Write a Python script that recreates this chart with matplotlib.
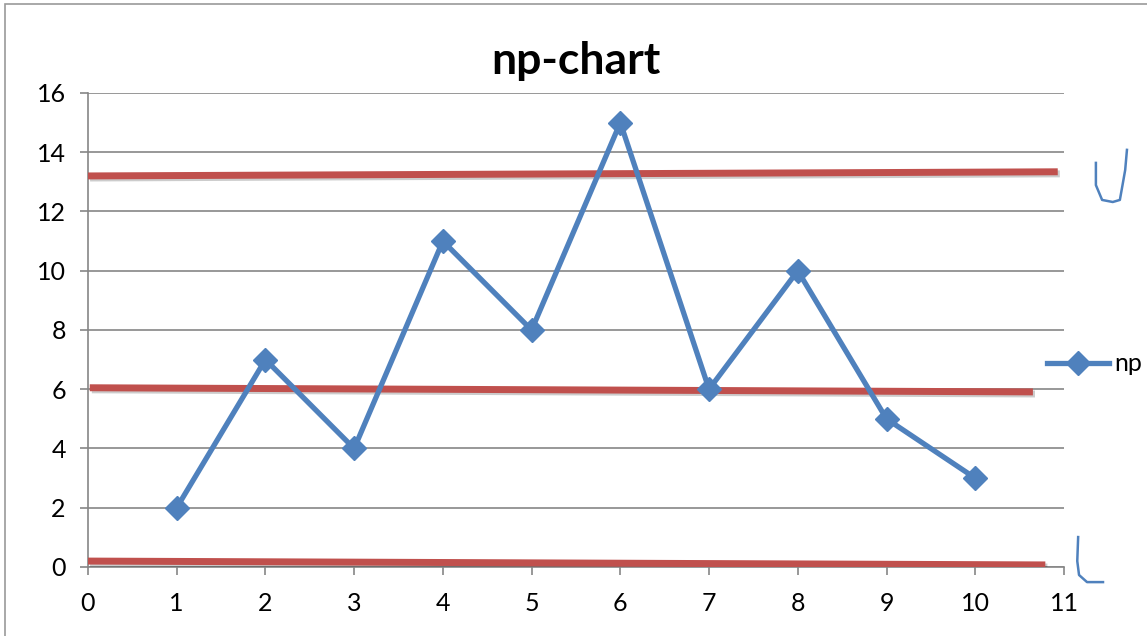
import matplotlib.pyplot as plt
import matplotlib.patheffects as pe
from matplotlib.patches import Rectangle

# sample number and np values
samples = [1, 2, 3, 4, 5, 6, 7, 8, 9, 10]
np_values = [2, 7, 4, 11, 8, 15, 6, 10, 5, 3]

# hand drawn control limits (start/end points)
ucl_x = [0, 10.93]
ucl_y = [13.2, 13.34]
cl_x = [0.02, 10.65]
cl_y = [6.05, 5.91]
lcl_x = [0, 10.79]
lcl_y = [0.2, 0.07]

# hand drawn pen marks on the right
mark_top_x = [11.36, 11.36, 11.43, 11.55, 11.63, 11.66, 11.69, 11.71]
mark_top_y = [13.64, 12.89, 12.39, 12.32, 12.39, 12.89, 13.40, 14.08]
mark_bot_x = [11.16, 11.15, 11.17, 11.26, 11.44]
mark_bot_y = [1.01, 0.2, -0.27, -0.51, -0.51]

plt.rcParams['font.family'] = ['Lato', 'DejaVu Sans']

fig = plt.figure(figsize=(11.47, 6.36), dpi=100)
ax = fig.add_axes([0.0767, 0.1085, 0.8509, 0.7453])

blue = '#4F81BD'
red = '#C0504D'
grey = '#868686'

shadow = [pe.SimpleLineShadow(offset=(1.5, -1.5), alpha=0.2), pe.Normal()]
for xs, ys in [(ucl_x, ucl_y), (cl_x, cl_y), (lcl_x, lcl_y)]:
    ax.plot(xs, ys, color=red, linewidth=5, solid_capstyle='butt',
            path_effects=shadow, zorder=3)

ax.plot(samples, np_values, color=blue, linewidth=3.8, marker='D',
        markersize=12, label='np', zorder=4, clip_on=False)

ax.plot(mark_top_x, mark_top_y, color=blue, linewidth=1.8, clip_on=False)
ax.plot(mark_bot_x, mark_bot_y, color=blue, linewidth=1.8, clip_on=False)

ax.set_xlim(0, 11)
ax.set_ylim(0, 16)
ax.set_xticks(range(0, 12))
ax.set_yticks(range(0, 17, 2))
ax.yaxis.grid(True, color=grey, linewidth=1.2)
ax.set_axisbelow(True)
for s in ['top', 'right']:
    ax.spines[s].set_visible(False)
for s in ['left', 'bottom']:
    ax.spines[s].set_color(grey)
    ax.spines[s].set_linewidth(1.2)
ax.tick_params(axis='both', colors=grey, length=6, width=1.2,
               labelsize=18, labelcolor='black')
ax.tick_params(axis='x', pad=12)
ax.tick_params(axis='y', pad=10)

ax.set_title('np-chart', fontsize=32, fontweight='bold', pad=14)

ax.legend(loc='center left', bbox_to_anchor=(0.893, 0.428),
          bbox_transform=fig.transFigure, frameon=False, fontsize=18,
          handlelength=2.5, handletextpad=0.2)

fig.patches.append(Rectangle((0.004, -0.01), 1.5, 1.004, transform=fig.transFigure,
                             fill=False, edgecolor='#9a9a9a', linewidth=1.2))

fig.savefig('out.png', dpi=100)
